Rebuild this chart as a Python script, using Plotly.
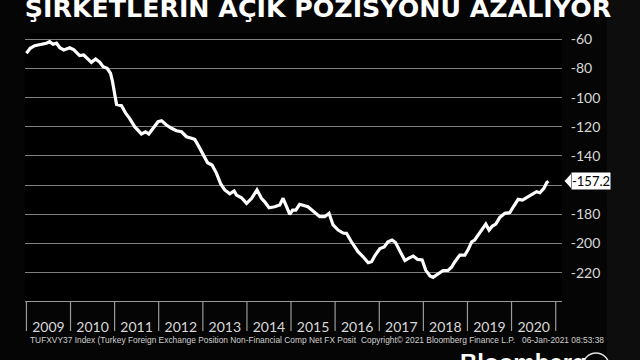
import plotly.graph_objects as go

# ---- data ----
dates = [
    "2009-01-01", "2009-02-01", "2009-03-10", "2009-05-04", "2009-06-15", "2009-07-12",
    "2009-08-09", "2009-09-07", "2009-10-04", "2009-11-06", "2009-12-26", "2010-01-29",
    "2010-03-17", "2010-04-20", "2010-05-25", "2010-06-23", "2010-07-28", "2010-09-01",
    "2010-09-28", "2010-10-31", "2010-11-28", "2010-12-15", "2011-01-03", "2011-01-17",
    "2011-02-27", "2011-04-03", "2011-05-05", "2011-06-16", "2011-08-11", "2011-09-14",
    "2011-10-11", "2011-11-16", "2011-12-27", "2012-01-25", "2012-03-05", "2012-04-16",
    "2012-05-27", "2012-07-08", "2012-08-18", "2012-09-29", "2012-10-26", "2012-11-29",
    "2013-01-04", "2013-02-09", "2013-03-18", "2013-04-24", "2013-05-29", "2013-07-01",
    "2013-08-12", "2013-09-17", "2013-10-06", "2013-11-17", "2013-12-29", "2014-02-09",
    "2014-03-25", "2014-05-01", "2014-05-28", "2014-07-03", "2014-08-19", "2014-09-30",
    "2014-10-27", "2014-11-25", "2014-12-22", "2015-01-14", "2015-02-10", "2015-03-13",
    "2015-04-16", "2015-05-21", "2015-07-02", "2015-08-27", "2015-10-07", "2015-11-12",
    "2015-12-15", "2016-01-26", "2016-03-07", "2016-04-04", "2016-05-15", "2016-07-09",
    "2016-08-20", "2016-10-01", "2016-10-29", "2016-11-26", "2017-01-06", "2017-02-11",
    "2017-03-14", "2017-04-17", "2017-05-15", "2017-06-20", "2017-08-01", "2017-09-03",
    "2017-10-09", "2017-11-15", "2017-12-22", "2018-01-20", "2018-02-25", "2018-03-22",
    "2018-05-03", "2018-06-13", "2018-07-24", "2018-08-22", "2018-09-19", "2018-10-30",
    "2018-12-11", "2019-01-08", "2019-02-05", "2019-03-02", "2019-03-30", "2019-05-05",
    "2019-06-02", "2019-06-29", "2019-07-27", "2019-08-24", "2019-09-26", "2019-11-07",
    "2019-12-18", "2020-01-20", "2020-02-25", "2020-04-01", "2020-05-09", "2020-06-23",
    "2020-07-26", "2020-08-23", "2020-09-25", "2020-10-18", "2020-11-01",
]
values = [
    -69.6, -66.2, -64.4, -63.4, -62.7, -61.6,
    -63.4, -62.7, -65.8, -67.3, -65.8, -67.3,
    -71.2, -70.8, -73.5, -75.8, -73.5, -75.8,
    -78.8, -79.9, -83.3, -89.1, -98.2, -104.6,
    -105.5, -110.7, -114.2, -119.9, -124.9, -123.4,
    -124.9, -121.0, -116.5, -115.8, -118.8, -121.0,
    -122.7, -123.4, -126.8, -127.9, -128.6, -133.6,
    -139.3, -144.6, -146.2, -151.9, -159.2, -163.3,
    -165.9, -164.0, -166.8, -168.6, -172.5, -169.0,
    -163.3, -169.0, -171.4, -175.5, -174.8, -173.6,
    -169.0, -174.8, -180.0, -177.1, -177.1, -173.1,
    -174.1, -174.8, -177.7, -181.6, -181.6, -179.3,
    -187.3, -190.8, -192.8, -193.0, -198.8, -205.6,
    -209.1, -213.2, -212.5, -208.2, -203.4, -202.4,
    -198.8, -197.6, -199.3, -205.6, -211.7, -210.0,
    -208.6, -210.9, -211.3, -218.2, -222.3, -223.2,
    -220.9, -218.5, -218.5, -216.3, -212.5, -207.9,
    -207.9, -204.0, -198.8, -197.6, -194.2, -189.6,
    -186.7, -190.8, -188.0, -186.7, -182.1, -179.3,
    -178.8, -174.3, -169.7, -170.2, -168.3, -165.6,
    -164.5, -165.2, -162.2, -158.3, -157.2,
]
years = list(range(2009, 2021))
y_ticks = [-60, -80, -100, -120, -140, -160, -180, -200, -220]

title_text = "ŞİRKETLERİN AÇIK POZİSYONU AZALIYOR"
footer_left = "TUFXVY37 Index (Turkey Foreign Exchange Position Non-Financial Comp Net FX Posit"
footer_mid = "Copyright© 2021 Bloomberg Finance L.P."
footer_right = "06-Jan-2021 08:53:38"

# ---- figure ----
W, H = 640, 360
ML, MR, MT, MB = 25, 78, 33, 59
PW, PH = W - ML - MR, H - MT - MB
Y_RANGE = [-239.4, -55.7]

def px_x(p):
    return (p - ML) / PW

def px_y(p):
    return (H - MB - p) / PH

last = values[-1]

fig = go.Figure()
fig.add_trace(go.Scatter(
    x=dates, y=values, mode="lines",
    line=dict(color="white", width=3.2),
    hoverinfo="skip", showlegend=False,
))

shapes = []
# right strip (slightly lighter background)
shapes.append(dict(type="rect", xref="paper", yref="paper",
                   x0=px_x(607), x1=px_x(645), y0=px_y(365), y1=px_y(-5),
                   fillcolor="#0d0d0d", line=dict(width=0), layer="below"))
# year separators
for yr in years + [years[-1] + 1]:
    shapes.append(dict(type="line", xref="x", yref="paper",
                       x0=f"{yr}-01-01", x1=f"{yr}-01-01",
                       y0=px_y(301), y1=px_y(331),
                       line=dict(color="#9a9a9a", width=1.2)))
# last value tag pointer
half = 7 * ((Y_RANGE[1] - Y_RANGE[0]) / PH)
shapes.append(dict(type="path", xref="paper", yref="y",
                   path=f"M {px_x(564.5)} {last} L {px_x(571)} {last + half} L {px_x(571)} {last - half} Z",
                   fillcolor="white", line=dict(width=0)))
# Bloomberg circle logo (mostly cut off)
shapes.append(dict(type="circle", xref="paper", yref="paper",
                   x0=px_x(583), x1=px_x(609), y0=px_y(379), y1=px_y(353),
                   line=dict(color="#e0e0e0", width=1.5)))

# tick labels; the one hidden behind the last-value tag is left blank
tick_text = []
for v in y_ticks:
    hidden = abs(v - last) < 8
    tick_text.append("" if hidden else str(v))

annotations = [
    dict(xref="paper", yref="y", x=px_x(570.5), y=last, xanchor="left", yanchor="middle",
         text=f"{last:.1f}", showarrow=False, bgcolor="white",
         font=dict(family="Lato", size=13, color="black"), borderpad=0),
    dict(xref="paper", yref="paper", x=px_x(28), y=px_y(340), xanchor="left", yanchor="middle",
         text=footer_left, showarrow=False,
         font=dict(family="Liberation Sans", size=8.4, color="#d0d0d0")),
    dict(xref="paper", yref="paper", x=px_x(359), y=px_y(340), xanchor="left", yanchor="middle",
         text=footer_mid, showarrow=False,
         font=dict(family="Liberation Sans", size=8.4, color="#d0d0d0")),
    dict(xref="paper", yref="paper", x=px_x(606), y=px_y(340), xanchor="right", yanchor="middle",
         text=footer_right, showarrow=False,
         font=dict(family="Liberation Sans", size=8.4, color="#d0d0d0")),
    dict(xref="paper", yref="paper", x=px_x(458), y=px_y(347), xanchor="left", yanchor="top",
         text="<b>Bloomberg</b>", showarrow=False,
         font=dict(family="Liberation Sans", size=24, color="white")),
]

fig.update_layout(
    width=W, height=H,
    margin=dict(l=ML, r=MR, t=MT, b=MB, pad=0),
    paper_bgcolor="#050505", plot_bgcolor="#000000",
    title=dict(text=f"<b>{title_text}</b>", x=318 / W, xanchor="center",
               y=1 - 8.5 / H, yanchor="middle",
               font=dict(family="DejaVu Sans", size=25.3, color="white")),
    xaxis=dict(
        type="date", range=["2008-12-20", "2021-02-22"],
        showgrid=False, zeroline=False,
        showline=True, linecolor="#9a9a9a", linewidth=1.2,
        tickvals=[f"{y}-07-02" for y in years], ticktext=[str(y) for y in years],
        ticks="outside", ticklen=13, tickcolor="rgba(0,0,0,0)",
        tickfont=dict(family="Lato", size=14, color="#d8d8d8"),
        fixedrange=True,
    ),
    yaxis=dict(
        side="right", range=Y_RANGE,
        tickvals=y_ticks, ticktext=tick_text,
        showgrid=True, gridcolor="#7f7f7f", gridwidth=1.2, zeroline=False,
        ticks="outside", ticklen=5, tickcolor="rgba(0,0,0,0)",
        tickfont=dict(family="Lato", size=14, color="#d8d8d8"),
        fixedrange=True,
    ),
    shapes=shapes, annotations=annotations,
    showlegend=False,
)

fig.write_html("out.html", config={"displayModeBar": False})
